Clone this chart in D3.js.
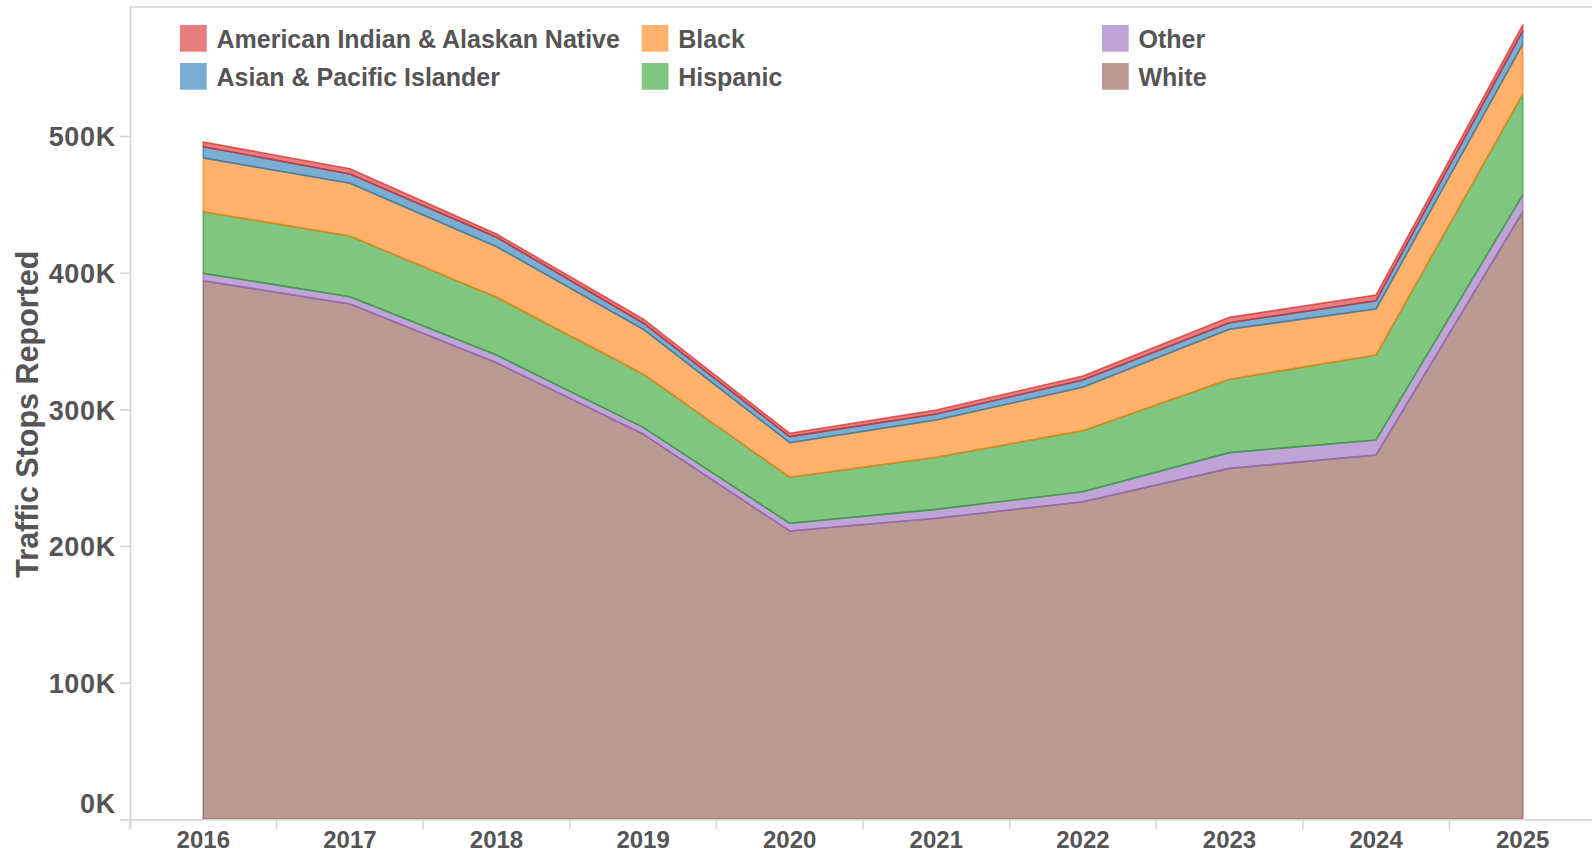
<!DOCTYPE html>
<html>
<head>
<meta charset="utf-8">
<script src="https://cdn.jsdelivr.net/npm/d3@7"></script>
<style>
  html, body { margin: 0; padding: 0; background: #fff; }
  svg { display: block; }
  text { font-family: "Liberation Sans", Arial, Helvetica, sans-serif; font-weight: bold; fill: #555; }
</style>
</head>
<body>
<svg id="chart" width="1592" height="853"></svg>
<script>
// ---- data ----
const years = [2016, 2017, 2018, 2019, 2020, 2021, 2022, 2023, 2024, 2025];
const seriesNames = ["American Indian & Alaskan Native", "Asian & Pacific Islander", "Black", "Hispanic", "Other", "White"];
const americanIndian = [3400, 3900, 2400, 2900, 2500, 2900, 2900, 3900, 4200, 4400];
const asianPacific   = [8300, 6800, 6900, 4600, 4400, 4400, 5400, 4800, 6100, 9700];
const black          = [39300, 38600, 37000, 32700, 25300, 27300, 31700, 36600, 33700, 36600];
const hispanic       = [45100, 44400, 42300, 39100, 33700, 38100, 44700, 53700, 62100, 73700];
const other          = [5400, 5300, 5600, 4900, 5600, 6500, 7300, 11500, 11000, 12200];
const white          = [394100, 377100, 334100, 281900, 211000, 220300, 232400, 256800, 266600, 444600];
const yTicks = [0, 100000, 200000, 300000, 400000, 500000];
const colors = ["#d62728", "#1f77b4", "#ff7f0e", "#2ca02c", "#9467bd", "#8c564b"];
const yTitle = "Traffic Stops Reported";

// ---- build table ----
const valuesBySeries = [americanIndian, asianPacific, black, hispanic, other, white];
const table = years.map((yr, i) => {
  const row = { year: yr };
  seriesNames.forEach((n, k) => row[n] = valuesBySeries[k][i]);
  return row;
});
const stackKeys = seriesNames.slice().reverse(); // White at bottom
const color = d3.scaleOrdinal().domain(seriesNames).range(colors);

const svg = d3.select("#chart");
const plotLeft = 130, plotTop = 7, plotBottom = 819.3;
const step = 146.6;

const x = d3.scaleBand().domain(years).range([plotLeft, plotLeft + step * years.length]).padding(0);
const xc = d => x(d) + x.bandwidth() / 2;
const y = d3.scaleLinear().domain([0, 594400]).range([plotBottom, plotTop]);

// frame
svg.append("line").attr("x1", plotLeft).attr("x2", 1592).attr("y1", plotTop).attr("y2", plotTop)
  .attr("stroke", "#d4d4d4").attr("stroke-width", 1.5);

// areas
const stacked = d3.stack().keys(stackKeys)(table);
const area = d3.area()
  .x(d => xc(d.data.year))
  .y0(d => y(d[0]))
  .y1(d => y(d[1]));

svg.append("g").selectAll("path").data(stacked).join("path")
  .attr("d", area)
  .attr("fill", d => color(d.key))
  .attr("fill-opacity", 0.6)
  .attr("stroke", d => color(d.key))
  .attr("stroke-opacity", 0.7)
  .attr("stroke-width", 1.6)
  .attr("stroke-linejoin", "round");

// y axis
const yAxis = d3.axisLeft(y).tickValues(yTicks).tickFormat(d => (d / 1000) + "K").tickSize(10).tickSizeOuter(0).tickPadding(4);
const gy = svg.append("g").attr("transform", `translate(${plotLeft},0)`).call(yAxis);
gy.select(".domain").attr("stroke", "#d4d4d4").attr("stroke-width", 1.5)
  .attr("d", `M0.5,${plotTop}V${plotBottom + 10}`);
gy.selectAll(".tick line").attr("stroke", "#d4d4d4").attr("stroke-width", 1.5);
gy.selectAll(".tick text").attr("font-size", 27).attr("letter-spacing", "0.7px")
  .attr("fill", "#555").attr("font-family", "Liberation Sans, Arial, sans-serif").attr("font-weight", "bold")
  .attr("dy", "0.36em");
// lowest label sits just above the baseline, as in the reference
gy.selectAll(".tick text").filter(d => d === 0).attr("y", -16.5);

// x axis
const xAxis = d3.axisBottom(x).tickSize(0).tickPadding(0);
const gx = svg.append("g").attr("transform", `translate(0,${plotBottom})`).call(xAxis);
gx.select(".domain").attr("stroke", "#d4d4d4").attr("stroke-width", 1.5)
  .attr("d", `M${plotLeft},0.5H1592`);
gx.selectAll(".tick text").attr("font-size", 24).attr("y", 28.5).attr("dy", 0)
  .attr("fill", "#555").attr("font-family", "Liberation Sans, Arial, sans-serif").attr("font-weight", "bold");
// boundary tick marks between year bands
gx.append("g").selectAll("line").data(years).join("line")
  .attr("x1", d => x(d)).attr("x2", d => x(d))
  .attr("y1", 0).attr("y2", 10)
  .attr("stroke", "#d4d4d4").attr("stroke-width", 1.5);

// y title
svg.append("text")
  .attr("transform", `translate(38,${(plotTop + plotBottom) / 2 + 1}) rotate(-90)`)
  .attr("text-anchor", "middle")
  .attr("font-size", 30.5)
  .text(yTitle);

// legend
const legendCols = [180, 641.7, 1102];
const legendRows = [25, 63];
const lg = svg.append("g");
seriesNames.forEach((name, i) => {
  const col = Math.floor(i / 2), row = i % 2;
  const g = lg.append("g").attr("transform", `translate(${legendCols[col]},${legendRows[row]})`);
  g.append("rect").attr("width", 26.7).attr("height", 26.7)
    .attr("fill", color(name)).attr("fill-opacity", 0.6);
  g.append("text").attr("x", 36.5).attr("y", 23).attr("font-size", 25).text(name);
});
</script>
</body>
</html>
